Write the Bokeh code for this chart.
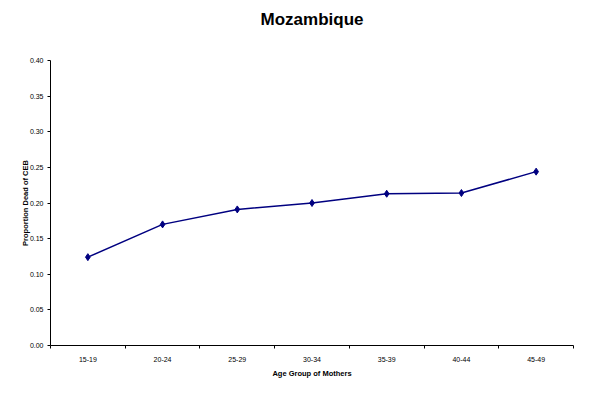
from bokeh.plotting import figure
from bokeh.models import FixedTicker, Range1d, Legend, LegendItem, ColumnDataSource, Title
from bokeh.embed import file_html
from bokeh.resources import INLINE

categories = ["15-19", "20-24", "25-29", "30-34", "35-39", "40-44", "45-49"]
values = [0.124, 0.170, 0.191, 0.200, 0.213, 0.214, 0.244]
y_ticks = [0.0, 0.05, 0.10, 0.15, 0.20, 0.25, 0.30, 0.35, 0.40]
series_name = "DHS 3. '97"
chart_title = "Mozambique"

FONT = "Liberation Sans"
NAVY = "#000080"

xs = [i + 0.5 for i in range(len(categories))]
src = ColumnDataSource(dict(x=xs, y=values))

p = figure(frame_width=523, frame_height=285, output_backend="svg", toolbar_location=None,
           x_range=Range1d(0, len(categories)), y_range=Range1d(0, 0.40),
           title_location=None,
           min_border_left=50, min_border_right=21, min_border_top=60, min_border_bottom=0)

# spacer between frame and title (nearest the frame), then the real title
spacer = Title(text=" ", text_font_size="1px", standoff=29, text_color="white")
p.add_layout(spacer, "above")
title = Title(text=chart_title, align="center", text_font=FONT, text_font_size="17px",
              text_font_style="bold", text_color="black", offset=0, standoff=0)
p.add_layout(title, "above")

p.outline_line_color = None
p.xgrid.grid_line_color = None
p.ygrid.grid_line_color = None
p.background_fill_color = "white"
p.border_fill_color = "white"

line = p.line("x", "y", source=src, line_color=NAVY, line_width=1.5)
pts = p.scatter("x", "y", source=src, marker="diamond", size=7, fill_color=NAVY, line_color=NAVY)

# x axis: labels at centers, ticks at boundaries
xa = p.xaxis[0]
xa.ticker = FixedTicker(ticks=xs, minor_ticks=list(range(len(categories) + 1)))
xa.major_label_overrides = {x: c for x, c in zip(xs, categories)}
xa.major_tick_line_color = None
xa.minor_tick_line_color = "black"
xa.minor_tick_out = 3
xa.minor_tick_in = 0
xa.axis_label = "Age Group of Mothers"
xa.major_label_standoff = 5
xa.axis_label_standoff = 4

ya = p.yaxis[0]
ya.ticker = FixedTicker(ticks=y_ticks, minor_ticks=[])
ya.major_label_overrides = {t: f"{t:.2f}" for t in y_ticks}
ya.major_tick_out = 3
ya.major_tick_in = 0
ya.axis_label = "Proportion Dead of CEB"
ya.major_label_standoff = 4
ya.axis_label_standoff = -3

for ax in (xa, ya):
    ax.axis_line_color = "black"
    ax.major_label_text_font = FONT
    ax.major_label_text_font_size = "7px"
    ax.major_label_text_color = "black"
    ax.axis_label_text_font = FONT
    ax.axis_label_text_font_size = "7.5px"
    ax.axis_label_text_font_style = "bold"
    ax.axis_label_text_color = "black"

legend = Legend(items=[LegendItem(label=series_name, renderers=[line, pts])],
                location="center", orientation="horizontal",
                label_text_font=FONT, label_text_font_size="7px",
                label_height=8, glyph_height=8, glyph_width=18,
                border_line_color=None, background_fill_alpha=0,
                label_standoff=2, padding=2, margin=5)
p.add_layout(legend, "below")

open("out.html", "w").write(file_html(p, INLINE))
